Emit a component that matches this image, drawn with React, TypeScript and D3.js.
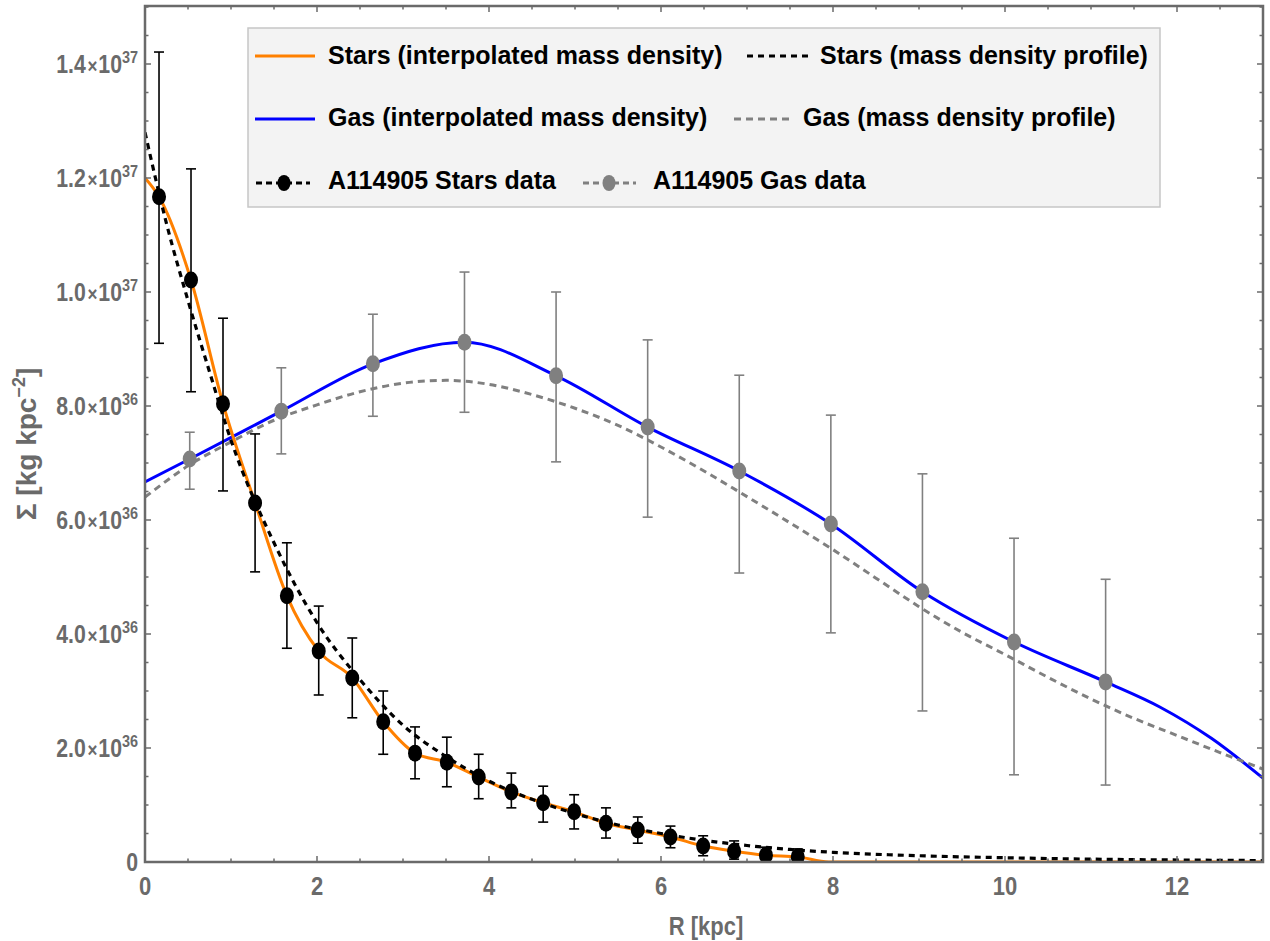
import React from 'react';
import * as d3 from 'd3';

// ---- data (surface density in units of 1e36 kg kpc^-2, R in kpc) ----
const starsR = [0.163, 0.535, 0.907, 1.28, 1.65, 2.02, 2.41, 2.77, 3.14, 3.51, 3.88, 4.26, 4.63, 4.99, 5.36, 5.73, 6.11, 6.49, 6.85, 7.22, 7.59];
const starsV = [11.67, 10.21, 8.04, 6.3, 4.67, 3.7, 3.23, 2.46, 1.91, 1.75, 1.49, 1.23, 1.04, 0.88, 0.68, 0.56, 0.44, 0.28, 0.19, 0.12, 0.09];
const starsHi = [14.21, 12.16, 9.54, 7.51, 5.6, 4.49, 3.93, 3.0, 2.37, 2.19, 1.89, 1.56, 1.33, 1.18, 0.95, 0.79, 0.63, 0.46, 0.37, 0.26, 0.23];
const starsLo = [9.1, 8.25, 6.51, 5.09, 3.75, 2.93, 2.53, 1.89, 1.46, 1.32, 1.11, 0.95, 0.7, 0.58, 0.42, 0.33, 0.25, 0.11, 0.05, 0.03, 0.0];

const gasR = [0.52, 1.585, 2.65, 3.715, 4.78, 5.845, 6.91, 7.975, 9.04, 10.105, 11.17];
const gasV = [7.07, 7.91, 8.74, 9.12, 8.53, 7.63, 6.86, 5.93, 4.74, 3.86, 3.16];
const gasHi = [7.54, 8.67, 9.61, 10.35, 10.0, 9.16, 8.54, 7.84, 6.81, 5.68, 4.96];
const gasLo = [6.54, 7.16, 7.82, 7.89, 7.02, 6.05, 5.07, 4.02, 2.65, 1.53, 1.35];

// interpolated curves: extra end nodes
const starsInterpHeadR = [0];
const starsInterpHeadV = [12.0];
const starsInterpTailR = [7.95, 13];
const starsInterpTailV = [0, 0];
const gasInterpHeadR = [0];
const gasInterpHeadV = [6.67];
const gasInterpTailR = [11.8, 12.4, 13];
const gasInterpTailV = [2.72, 2.17, 1.47];

// profile curves
const starsProfR = [0, 0.25, 0.5, 0.75, 1, 1.5, 2, 2.5, 3, 3.5, 4, 4.5, 5, 5.5, 6, 6.5, 7, 7.5, 8, 9, 10, 11, 12, 13];
const starsProfV = [12.8, 11.2, 9.85, 8.6, 7.4, 5.6, 4.2, 3.2, 2.4, 1.85, 1.42, 1.1, 0.85, 0.65, 0.5, 0.38, 0.29, 0.22, 0.17, 0.11, 0.075, 0.05, 0.035, 0.025];
const gasProfR = [0, 0.5, 1, 1.5, 2, 2.5, 3, 3.5, 4, 4.5, 5, 5.5, 6, 6.5, 7, 7.5, 8, 8.5, 9, 9.5, 10, 10.5, 11, 11.5, 12, 12.5, 13];
const gasProfV = [6.4, 6.95, 7.37, 7.75, 8.02, 8.25, 8.4, 8.45, 8.38, 8.2, 7.96, 7.66, 7.28, 6.86, 6.41, 5.95, 5.48, 4.98, 4.48, 4.03, 3.64, 3.24, 2.86, 2.52, 2.22, 1.92, 1.63];

// ticks
const xTickLabels = ['0', '2', '4', '6', '8', '10', '12'];
const xTickValues = [0, 2, 4, 6, 8, 10, 12];
const yTickValues = [0, 2, 4, 6, 8, 10, 12, 14];
const yTickMantissa = ['0', '2.0', '4.0', '6.0', '8.0', '1.0', '1.2', '1.4'];
const yTickExp = ['', '36', '36', '36', '36', '37', '37', '37'];

const W = 1270;
const H = 941;
const L = 145, R = 1263, T = 6, B = 862;
const GREY = '#6a6a6a';
const FONT = "'Liberation Sans', Arial, sans-serif";

export default function App() {
  const x = d3.scaleLinear().domain([0, 13]).range([L, R]);
  const y = d3.scaleLinear().domain([0, 15]).range([B, B - 15 * 57]);
  const line = d3.line<[number, number]>().x(d => x(d[0])).y(d => y(d[1])).curve(d3.curveMonotoneX);
  const zip = (a: number[], b: number[]) => a.map((v, i) => [v, b[i]] as [number, number]);

  const orangePts = zip([...starsInterpHeadR, ...starsR, ...starsInterpTailR], [...starsInterpHeadV, ...starsV, ...starsInterpTailV]);
  const bluePts = zip([...gasInterpHeadR, ...gasR, ...gasInterpTailR], [...gasInterpHeadV, ...gasV, ...gasInterpTailV]);
  const starsProf = zip(starsProfR, starsProfV);
  const gasProf = zip(gasProfR, gasProfV);

  const xMinor = d3.range(0, 13.01, 0.5).filter(v => Math.abs(v % 2) > 1e-6);
  const yMinor = d3.range(0, 15.01, 0.5).filter(v => Math.abs(v % 2) > 1e-6);

  const cap = 5;

  return (
    <div style={{ position: 'absolute', left: 0, top: 0 }}>
      <svg width={W} height={H} style={{ display: 'block', background: '#fff' }} fontFamily={FONT}>
        <defs>
          <clipPath id="plotclip">
            <rect x={L} y={T} width={R - L} height={B - T} />
          </clipPath>
        </defs>

        <g clipPath="url(#plotclip)">
          <path d={line(bluePts) || ''} fill="none" stroke="#0000ff" strokeWidth={3} />
          <path d={line(gasProf) || ''} fill="none" stroke="#808080" strokeWidth={3} strokeDasharray="7 5" />
          <path d={line(orangePts) || ''} fill="none" stroke="#ff8000" strokeWidth={3} />
          <path d={line(starsProf) || ''} fill="none" stroke="#000" strokeWidth={3.2} strokeDasharray="6 5" />

          {gasR.map((r, i) => (
            <g key={'ge' + i} stroke="#808080" strokeWidth={1.6}>
              <line x1={x(r)} x2={x(r)} y1={y(gasLo[i])} y2={y(gasHi[i])} />
              <line x1={x(r) - cap} x2={x(r) + cap} y1={y(gasLo[i])} y2={y(gasLo[i])} />
              <line x1={x(r) - cap} x2={x(r) + cap} y1={y(gasHi[i])} y2={y(gasHi[i])} />
            </g>
          ))}
          {starsR.map((r, i) => (
            <g key={'se' + i} stroke="#000" strokeWidth={1.6}>
              <line x1={x(r)} x2={x(r)} y1={y(starsLo[i])} y2={y(starsHi[i])} />
              <line x1={x(r) - cap} x2={x(r) + cap} y1={y(starsLo[i])} y2={y(starsLo[i])} />
              <line x1={x(r) - cap} x2={x(r) + cap} y1={y(starsHi[i])} y2={y(starsHi[i])} />
            </g>
          ))}
          {gasR.map((r, i) => (
            <ellipse key={'gp' + i} cx={x(r)} cy={y(gasV[i])} rx={7} ry={8.5} fill="#808080" />
          ))}
          {starsR.map((r, i) => (
            <ellipse key={'sp' + i} cx={x(r)} cy={y(starsV[i])} rx={7} ry={8.5} fill="#000" />
          ))}
        </g>

        {/* frame */}
        <rect x={L} y={T} width={R - L} height={B - T} fill="none" stroke={GREY} strokeWidth={2.5} />
        <g stroke={GREY} strokeWidth={1.5}>
          {xTickValues.map(v => (
            <g key={'xt' + v}>
              <line x1={x(v)} x2={x(v)} y1={B} y2={B - 6} />
              <line x1={x(v)} x2={x(v)} y1={T} y2={T + 6} />
            </g>
          ))}
          {xMinor.map(v => (
            <g key={'xm' + v}>
              <line x1={x(v)} x2={x(v)} y1={B} y2={B - 3.5} />
              <line x1={x(v)} x2={x(v)} y1={T} y2={T + 3.5} />
            </g>
          ))}
          {yTickValues.map(v => (
            <g key={'yt' + v}>
              <line x1={L} x2={L + 6} y1={y(v)} y2={y(v)} />
              <line x1={R} x2={R - 6} y1={y(v)} y2={y(v)} />
            </g>
          ))}
          {yMinor.map(v => (
            <g key={'ym' + v}>
              <line x1={L} x2={L + 3.5} y1={y(v)} y2={y(v)} />
              <line x1={R} x2={R - 3.5} y1={y(v)} y2={y(v)} />
            </g>
          ))}
        </g>

        {/* tick labels */}
        {xTickValues.map((v, i) => (
          <text key={'xl' + v} transform={`translate(${x(v)},895) scale(0.88,1)`} textAnchor="middle" fontSize={25} fontWeight="bold" fill={GREY}>
            {xTickLabels[i]}
          </text>
        ))}
        {yTickValues.map((v, i) => (
          <text key={'yl' + v} transform={`translate(138,${y(v) + 9}) scale(0.85,1)`} textAnchor="end" fontSize={25} fontWeight="bold" fill={GREY}>
            {yTickMantissa[i]}
            {yTickExp[i] ? <tspan fontSize={20} dx={2}>{'\u00d7'}</tspan> : null}
            {yTickExp[i] ? <tspan dx={1}>10</tspan> : null}
            {yTickExp[i] ? <tspan fontSize={17} dy={-10}>{yTickExp[i]}</tspan> : null}
          </text>
        ))}

        {/* axis labels */}
        <text transform="translate(706,935) scale(0.88,1)" textAnchor="middle" fontSize={25} fontWeight="bold" fill={GREY}>R [kpc]</text>
        <text transform="translate(36,444) rotate(-90)" textAnchor="middle" fontSize={28} fontWeight="bold" fill={GREY}>
          {'\u03a3 [kg kpc'}<tspan fontSize={18} dy={-11}>{'\u22122'}</tspan><tspan dy={11}>]</tspan>
        </text>

        {/* legend */}
        <rect x={248} y={28} width={912} height={179} fill="#f3f3f3" stroke="#c6c6c6" strokeWidth={1.5} />
        <g fontSize={25} fontWeight="bold" fill="#000">
          <line x1={255} x2={315} y1={56} y2={56} stroke="#ff8000" strokeWidth={3} />
          <text x={328} y={64}>Stars (interpolated mass density)</text>
          <line x1={747} x2={809} y1={56} y2={56} stroke="#000" strokeWidth={3} strokeDasharray="6 5" />
          <text x={820} y={64}>Stars (mass density profile)</text>

          <line x1={255} x2={315} y1={119} y2={119} stroke="#0000ff" strokeWidth={3} />
          <text x={328} y={126}>Gas (interpolated mass density)</text>
          <line x1={734} x2={790} y1={119} y2={119} stroke="#808080" strokeWidth={3} strokeDasharray="7 5" />
          <text x={803} y={126}>Gas (mass density profile)</text>

          <line x1={256} x2={310} y1={183} y2={183} stroke="#000" strokeWidth={3} strokeDasharray="6 4" />
          <ellipse cx={284} cy={183} rx={6.5} ry={8} fill="#000" />
          <text x={328} y={189}>A114905 Stars data</text>
          <line x1={583} x2={636} y1={183} y2={183} stroke="#808080" strokeWidth={3} strokeDasharray="6 4" />
          <ellipse cx={609} cy={183} rx={6.5} ry={8} fill="#808080" />
          <text x={653} y={189}>A114905 Gas data</text>
        </g>
      </svg>
    </div>
  );
}
